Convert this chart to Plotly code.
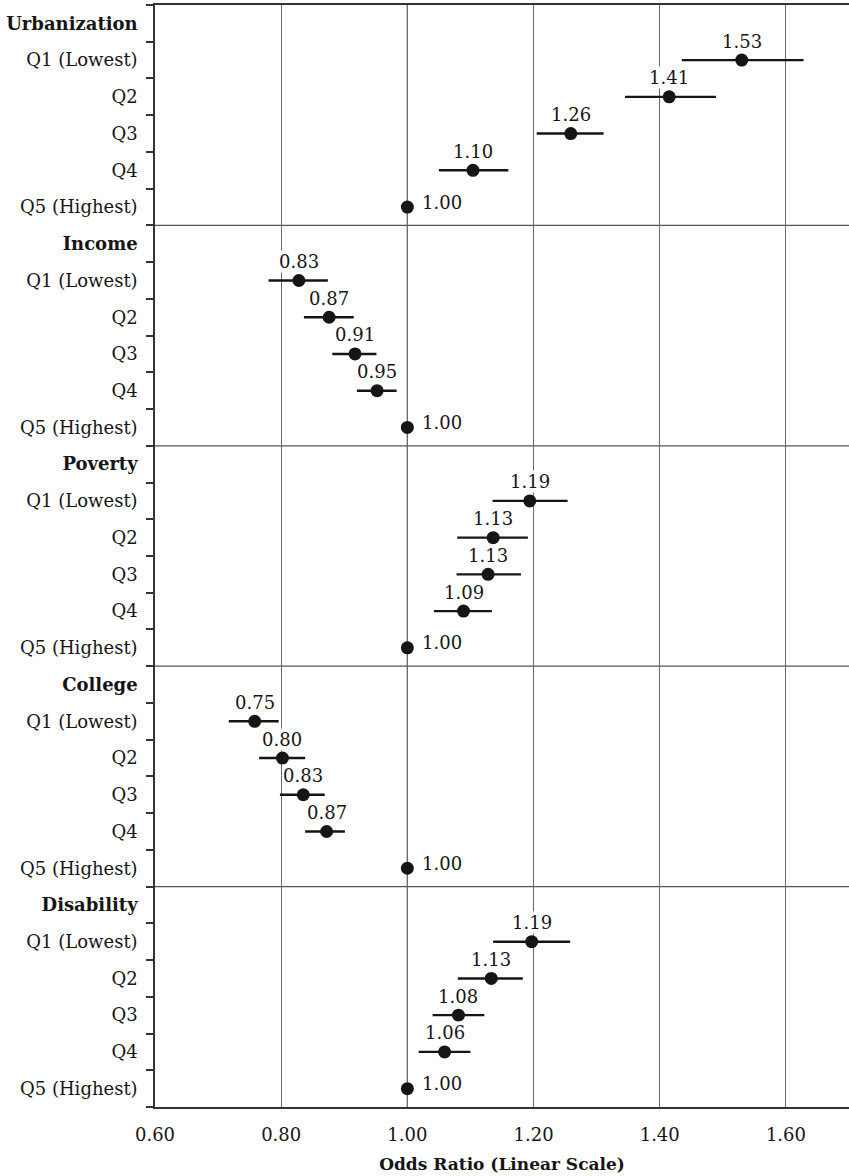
import plotly.graph_objects as go

# ---------------- data ----------------
groups = ["Urbanization", "Income", "Poverty", "College", "Disability"]
levels = ["Q1 (Lowest)", "Q2", "Q3", "Q4", "Q5 (Highest)"]

urban_or = [1.530, 1.415, 1.259, 1.104, 1.00]
urban_lo = [1.435, 1.345, 1.205, 1.050, None]
urban_hi = [1.628, 1.489, 1.311, 1.160, None]
urban_txt = ["1.53", "1.41", "1.26", "1.10", "1.00"]

income_or = [0.828, 0.876, 0.917, 0.952, 1.00]
income_lo = [0.780, 0.836, 0.881, 0.920, None]
income_hi = [0.874, 0.915, 0.951, 0.983, None]
income_txt = ["0.83", "0.87", "0.91", "0.95", "1.00"]

poverty_or = [1.194, 1.136, 1.128, 1.089, 1.00]
poverty_lo = [1.135, 1.079, 1.078, 1.042, None]
poverty_hi = [1.254, 1.191, 1.180, 1.134, None]
poverty_txt = ["1.19", "1.13", "1.13", "1.09", "1.00"]

college_or = [0.758, 0.802, 0.835, 0.872, 1.00]
college_lo = [0.717, 0.765, 0.798, 0.838, None]
college_hi = [0.796, 0.838, 0.869, 0.901, None]
college_txt = ["0.75", "0.80", "0.83", "0.87", "1.00"]

disab_or = [1.197, 1.133, 1.081, 1.059, 1.00]
disab_lo = [1.136, 1.080, 1.040, 1.018, None]
disab_hi = [1.258, 1.183, 1.122, 1.100, None]
disab_txt = ["1.19", "1.13", "1.08", "1.06", "1.00"]

x_ticks = [0.60, 0.80, 1.00, 1.20, 1.40, 1.60]
x_ticktext = ["0.60", "0.80", "1.00", "1.20", "1.40", "1.60"]
x_range = [0.60, 1.70]
ref_or = 1.00
x_title = "Odds Ratio (Linear Scale)"

series = [
    (urban_or, urban_lo, urban_hi, urban_txt),
    (income_or, income_lo, income_hi, income_txt),
    (poverty_or, poverty_lo, poverty_hi, poverty_txt),
    (college_or, college_lo, college_hi, college_txt),
    (disab_or, disab_lo, disab_hi, disab_txt),
]

# ---------------- build ----------------
FONT = "DejaVu Serif"
INK = "#151515"
FS = 18
rows_per_group = len(levels) + 1
n_rows = rows_per_group * len(groups)

tickvals, ticktext = [], []
xs, ys, ep, em = [], [], [], []
annotations = []
for g, (name, (orv, lo, hi, txt)) in enumerate(zip(groups, series)):
    base = g * rows_per_group
    tickvals.append(base)
    ticktext.append(f"<b>{name}</b>")
    for k, lev in enumerate(levels):
        r = base + k + 1
        tickvals.append(r)
        ticktext.append(lev)
        xs.append(orv[k])
        ys.append(r)
        if lo[k] is None:
            ep.append(0)
            em.append(0)
            annotations.append(dict(x=orv[k], y=r, text=txt[k], showarrow=False,
                                    xanchor="left", yanchor="middle", xshift=14, yshift=5,
                                    font=dict(family=FONT, size=FS, color=INK),
                                    bgcolor="white", borderpad=0))
        else:
            ep.append(hi[k] - orv[k])
            em.append(orv[k] - lo[k])
            annotations.append(dict(x=orv[k], y=r, text=txt[k], showarrow=False,
                                    xanchor="center", yanchor="middle", yshift=19,
                                    font=dict(family=FONT, size=FS, color=INK),
                                    bgcolor="white", borderpad=0))

fig = go.Figure()
fig.add_trace(go.Scatter(
    x=xs, y=ys, mode="markers",
    marker=dict(size=13, color=INK),
    error_x=dict(type="data", symmetric=False, array=ep, arrayminus=em,
                 width=0, thickness=2.4, color=INK),
    showlegend=False, hoverinfo="x+y",
))

shapes = []
# group dividers
for g in range(1, len(groups)):
    yb = g * rows_per_group - 0.5
    shapes.append(dict(type="line", xref="paper", x0=0, x1=1, yref="y", y0=yb, y1=yb,
                       line=dict(color="#555555", width=1.3), layer="below"))
# reference line
shapes.append(dict(type="line", xref="x", x0=ref_or, x1=ref_or, yref="paper", y0=0, y1=1,
                   line=dict(color="#222222", width=1.2), layer="below"))

fig.update_layout(
    width=849, height=1176,
    margin=dict(l=155, r=0, t=5, b=69),
    paper_bgcolor="white", plot_bgcolor="white",
    font=dict(family=FONT, size=FS, color=INK),
    shapes=shapes,
    annotations=annotations,
    xaxis=dict(
        range=x_range, tickmode="array", tickvals=x_ticks, ticktext=x_ticktext,
        showgrid=True, gridcolor="#6a6a6a", gridwidth=1,
        showline=True, linecolor="#333333", linewidth=1.5, mirror=True,
        ticks="", ticklabelstandoff=11, zeroline=False,
        tickfont=dict(family=FONT, size=FS, color=INK),
        title=dict(text=f"<b>{x_title}</b>", standoff=14,
                   font=dict(family=FONT, size=17, color=INK)),
        fixedrange=True,
    ),
    yaxis=dict(
        range=[n_rows - 0.5, -0.5], tickmode="array", tickvals=tickvals, ticktext=ticktext,
        showgrid=False, zeroline=False,
        showline=True, linecolor="#333333", linewidth=1.5,
        ticks="", ticklabelstandoff=12,
        tickfont=dict(family=FONT, size=FS, color=INK),
        minor=dict(tickmode="linear", tick0=-0.5, dtick=1, ticks="outside",
                   ticklen=7, tickwidth=1.5, tickcolor="#333333", showgrid=False),
        fixedrange=True,
    ),
)

fig.write_html("out.html")
